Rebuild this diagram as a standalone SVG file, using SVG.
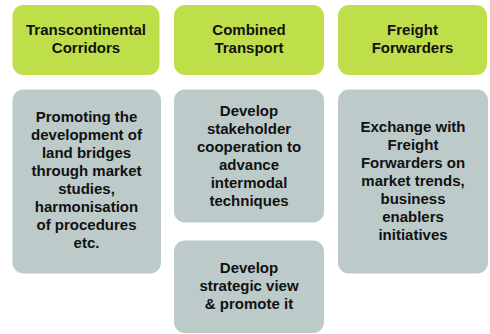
<svg xmlns="http://www.w3.org/2000/svg" width="490" height="334" viewBox="0 0 490 334">
<style>
.g{fill:#bfdf4a}
.b{fill:#bccbc9}
text{font-family:"Liberation Sans",Arial,sans-serif;font-weight:bold;font-size:15px;fill:#111;text-anchor:middle}
</style>
<rect width="490" height="334" fill="#fff"/>
<g id="h1"><rect class="g" x="12.5" y="5" width="147" height="70" rx="11"/>
<text x="86" y="35">Transcontinental</text><text x="86" y="53">Corridors</text></g>
<g id="h2"><rect class="g" x="174" y="5" width="150" height="70" rx="11"/>
<text x="249" y="35">Combined</text><text x="249" y="53">Transport</text></g>
<g id="h3"><rect class="g" x="338" y="5" width="149" height="70" rx="11"/>
<text x="412.5" y="35">Freight</text><text x="412.5" y="53">Forwarders</text></g>
<g id="c1"><rect class="b" x="12.5" y="89.5" width="148.5" height="184" rx="11"/>
<text x="86.5" y="122">Promoting the</text><text x="86.5" y="140">development of</text><text x="86.5" y="158">land bridges</text><text x="86.5" y="176">through market</text><text x="86.5" y="194">studies,</text><text x="86.5" y="212">harmonisation</text><text x="86.5" y="230">of procedures</text><text x="86.5" y="248">etc.</text></g>
<g id="c2"><rect class="b" x="174" y="89.5" width="150" height="133" rx="11"/>
<text x="249" y="116">Develop</text><text x="249" y="134">stakeholder</text><text x="249" y="152">cooperation to</text><text x="249" y="170">advance</text><text x="249" y="188">intermodal</text><text x="249" y="206">techniques</text></g>
<g id="c3"><rect class="b" x="174" y="240.5" width="150" height="92.5" rx="11"/>
<text x="249" y="273">Develop</text><text x="249" y="291">strategic view</text><text x="249" y="309">&amp; promote it</text></g>
<g id="c4"><rect class="b" x="338" y="89.5" width="150" height="184" rx="11"/>
<text x="413" y="132">Exchange with</text><text x="413" y="150">Freight</text><text x="413" y="168">Forwarders on</text><text x="413" y="186">market trends,</text><text x="413" y="204">business</text><text x="413" y="222">enablers</text><text x="413" y="240">initiatives</text></g>
<g id="connectors"></g>
</svg>
